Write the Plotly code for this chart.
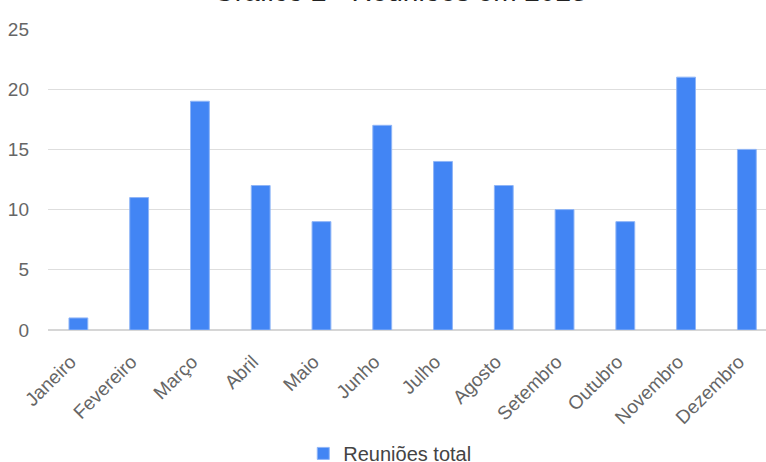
import plotly.graph_objects as go

meses = ["Janeiro", "Fevereiro", "Março", "Abril", "Maio", "Junho",
         "Julho", "Agosto", "Setembro", "Outubro", "Novembro", "Dezembro"]
reunioes = [1, 11, 19, 12, 9, 17, 14, 12, 10, 9, 21, 15]
serie_nome = "Reuniões total"
titulo = "Gráfico 2 - Reuniões em 2023"
y_ticks = [0, 5, 10, 15, 20, 25]

FONT = "Liberation Sans, Arial, sans-serif"
TXT = "#666666"

fig = go.Figure()
fig.add_trace(go.Bar(
    x=list(range(len(meses))), y=reunioes, name=serie_nome,
    marker=dict(color="#4285F4", line=dict(color="#8fb5f7", width=1)),
    showlegend=True,
))

fig.update_layout(
    width=766, height=462, autosize=False,
    margin=dict(l=48, r=0, t=29, b=132, autoexpand=False),
    paper_bgcolor="white", plot_bgcolor="white",
    bargap=0.69,
    font=dict(family=FONT, size=19, color=TXT),
    showlegend=True,
    legend=dict(orientation="h", x=0.476, xanchor="center", y=-0.41, yanchor="middle",
                font=dict(size=20, color="#444444"), itemwidth=30),
    annotations=[dict(text=titulo, xref="paper", yref="paper", x=0.49, y=1.066,
                      xanchor="center", yanchor="bottom", showarrow=False,
                      font=dict(family=FONT, size=28, color="#222222"))],
)
fig.update_xaxes(
    tickmode="array", tickvals=list(range(len(meses))), ticktext=meses,
    range=[-0.5, 11.315], tickangle=-45, showgrid=False, zeroline=False,
    showline=False, ticks="", tickfont=dict(size=19, color=TXT),
    automargin=False, ticklabelstandoff=16, ticklabelshift=-8,
)
fig.update_yaxes(
    range=[0, 25], tickvals=y_ticks, showgrid=True, gridcolor="#dedede", gridwidth=1,
    zeroline=True, zerolinecolor="#d6d6d6", zerolinewidth=1.5,
    ticks="", ticklabelstandoff=18, tickfont=dict(size=19, color=TXT),
    automargin=False,
)

fig.write_html("out.html", config={"displayModeBar": False},
               post_script="document.body.style.margin='0';")
